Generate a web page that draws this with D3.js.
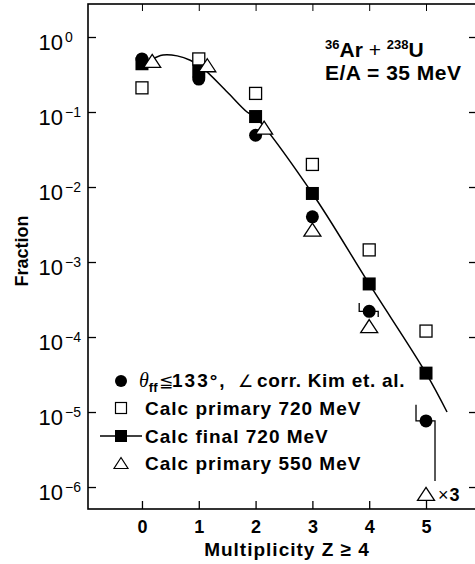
<!DOCTYPE html>
<html>
<head>
<meta charset="utf-8">
<script src="https://cdn.jsdelivr.net/npm/d3@7"></script>
<style>
  body { margin: 0; background: #fff; }
  svg { display: block; }
  text { font-family: "Liberation Sans", Arial, Helvetica, sans-serif; fill: #000; }
</style>
</head>
<body>
<script>
const w = 475;
const h = 564;

// multiplicity bins
const zValues = [0, 1, 2, 3, 4, 5];
// data: theta_ff <= 133 deg, angle corrected (Kim et al.)
const measured = [0.51, 0.275, 0.049, 0.004, 2.2e-4, 7.6e-6];
const measuredHi = [null, null, null, null, 2.85e-4, 1.25e-5];
const measuredLo = [null, null, null, null, 1.85e-4, 1.2e-6];
// calc primary 720 MeV
const primary720 = [0.21, 0.51, 0.177, 0.02, 1.45e-3, 1.2e-4];
// calc final 720 MeV
const final720 = [0.44, 0.35, 0.087, 0.0082, 5.1e-4, 3.3e-5];
// calc primary 550 MeV (shifted a bit right where crowded, last one x3)
const primary550Z = [0.18, 1.15, 2.15, 3, 4, 5];
const primary550 = [0.48, 0.42, 0.062, 0.0027, 1.4e-4, 8.1e-7];
// smooth line through the final 720 MeV calc
const curveZ = [0.14, 0.37, 0.62, 0.85, 1.06, 1.5, 1.85, 2, 3, 4, 5, 5.37];
const curveF = [0.49, 0.575, 0.56, 0.49, 0.39, 0.185, 0.1, 0.085, 0.0082, 5.1e-4, 3.3e-5, 1.0e-5];

const xTicks = [0, 1, 2, 3, 4, 5];
const yExps = [0, -1, -2, -3, -4, -5, -6];
const yExpLabels = ["0", "\u22121", "\u22122", "\u22123", "\u22124", "\u22125", "\u22126"];

const legendLabels = [
  "Calc primary 720 MeV",
  "Calc final 720 MeV",
  "Calc primary 550 MeV",
];

const x = d3.scaleLinear().domain([-0.95, 5.88]).range([88, 476]);
const y = d3.scaleLog().domain([Math.pow(10, 0.44), Math.pow(10, -6.293)]).range([4, 509]);

const svg = d3.select("body").append("svg").attr("width", w).attr("height", h);

// frame
svg.append("rect")
  .attr("x", x.range()[0])
  .attr("y", y.range()[0])
  .attr("width", x.range()[1] - x.range()[0])
  .attr("height", y.range()[1] - y.range()[0])
  .attr("fill", "none")
  .attr("stroke", "#000")
  .attr("stroke-width", 1.6);

// axes, ticks pointing inward
const gx = svg.append("g")
  .attr("transform", `translate(0,${y.range()[1]})`)
  .call(d3.axisBottom(x).tickValues(xTicks).tickSize(-8).tickPadding(11).tickFormat(d3.format("d")));
gx.select(".domain").remove();
gx.selectAll("line").attr("stroke-width", 1.3);
gx.selectAll("text")
  .attr("font-size", 18)
  .attr("font-weight", "bold")
  .attr("font-family", "Liberation Sans, Arial, sans-serif");

const gt = svg.append("g")
  .attr("transform", `translate(0,${y.range()[0]})`)
  .call(d3.axisTop(x).tickValues(xTicks).tickSize(-7).tickFormat(""));
gt.select(".domain").remove();

const yTickVals = yExps.map((e) => Math.pow(10, e));
const gl = svg.append("g")
  .attr("transform", `translate(${x.range()[0]},0)`)
  .call(d3.axisLeft(y).tickValues(yTickVals).tickSize(-8).tickFormat(""));
gl.select(".domain").remove();
gl.selectAll("line").attr("stroke-width", 1.3);

const gr = svg.append("g")
  .attr("transform", `translate(${x.range()[1]},0)`)
  .call(d3.axisRight(y).tickValues(yTickVals).tickSize(-7).tickFormat(""));
gr.select(".domain").remove();
gr.selectAll("line").attr("stroke-width", 1.3);

// y tick labels 10^n
yExps.forEach((e, i) => {
  const yy = y(Math.pow(10, e));
  svg.append("text")
    .attr("x", 63)
    .attr("y", yy + 13)
    .attr("text-anchor", "end")
    .attr("font-size", 22)
    .text("10");
  svg.append("text")
    .attr("x", 65)
    .attr("y", yy + 5)
    .attr("font-size", 14)
    .text(yExpLabels[i]);
});

// axis titles
svg.append("text")
  .attr("x", 287)
  .attr("y", 556)
  .attr("text-anchor", "middle")
  .attr("font-size", 19)
  .attr("font-weight", "bold")
  .attr("letter-spacing", 1)
  .text("Multiplicity Z \u2265 4");

svg.append("text")
  .attr("transform", "translate(28,251) rotate(-90)")
  .attr("text-anchor", "middle")
  .attr("font-size", 18)
  .attr("font-weight", "bold")
  .text("Fraction");

// fitted curve
const line = d3.line()
  .x((d) => x(d[0]))
  .y((d) => y(d[1]))
  .curve(d3.curveCatmullRom.alpha(0.5));
svg.append("path")
  .datum(curveZ.map((z, i) => [z, curveF[i]]))
  .attr("fill", "none")
  .attr("stroke", "#000")
  .attr("stroke-width", 1.5)
  .attr("d", line);

// markers
const tri = (b, ht) => `M0,${-ht / 2}L${b / 2},${ht / 2}L${-b / 2},${ht / 2}Z`;

svg.append("g")
  .selectAll("rect")
  .data(zValues)
  .join("rect")
  .attr("x", (d) => x(d) - 6.5)
  .attr("y", (d, i) => y(final720[i]) - 6.5)
  .attr("width", 13)
  .attr("height", 13)
  .attr("fill", "#000");

svg.append("g")
  .selectAll("circle")
  .data(zValues)
  .join("circle")
  .attr("cx", (d) => x(d))
  .attr("cy", (d, i) => y(measured[i]))
  .attr("r", 6.5)
  .attr("fill", "#000");

// error bars (hooks)
const err = svg.append("g").attr("fill", "none").attr("stroke", "#000").attr("stroke-width", 1.3);
zValues.forEach((z, i) => {
  if (measuredHi[i] == null) return;
  const cx = x(z);
  const cy = y(measured[i]);
  err.append("path").attr("d", `M${cx - 10},${y(measuredHi[i])}V${cy}H${cx - 5}`);
  err.append("path").attr("d", `M${cx + 5},${cy}H${cx + 9}V${y(measuredLo[i])}`);
});

svg.append("g")
  .selectAll("rect")
  .data(zValues)
  .join("rect")
  .attr("x", (d) => x(d) - 6)
  .attr("y", (d, i) => y(primary720[i]) - 6)
  .attr("width", 12)
  .attr("height", 12)
  .attr("fill", "#fff")
  .attr("stroke", "#000")
  .attr("stroke-width", 1.3);

svg.append("g")
  .selectAll("path")
  .data(primary550Z)
  .join("path")
  .attr("transform", (d, i) => `translate(${x(d)},${y(primary550[i])})`)
  .attr("d", tri(17, 13))
  .attr("fill", "#fff")
  .attr("stroke", "#000")
  .attr("stroke-width", 1.3);

// x3 note for the last 550 MeV point
const last = primary550Z.length - 1;
const note = svg.append("text")
  .attr("x", x(primary550Z[last]) + 12)
  .attr("y", y(primary550[last]) + 7)
  .attr("font-size", 18);
note.append("tspan").text("\u00d7");
note.append("tspan").attr("dx", 1).attr("font-weight", "bold").text("3");

// reaction label
const r1 = svg.append("text")
  .attr("x", 325)
  .attr("y", 57)
  .attr("font-size", 21)
  .attr("font-weight", "bold");
r1.append("tspan").attr("font-size", 13).attr("dy", -8).text("36");
r1.append("tspan").attr("dy", 8).text("Ar");
r1.append("tspan").attr("font-weight", "normal").text(" + ");
r1.append("tspan").attr("font-size", 13).attr("dy", -8).text("238");
r1.append("tspan").attr("dy", 8).text("U");

svg.append("text")
  .attr("x", 325)
  .attr("y", 80)
  .attr("font-size", 21)
  .attr("font-weight", "bold")
  .attr("letter-spacing", 0.5)
  .text("E/A = 35 MeV");

// legend
const lg = svg.append("g");
const rowY = [381, 408, 436, 463];
const mx = 121;

lg.append("circle").attr("cx", mx).attr("cy", rowY[0]).attr("r", 6).attr("fill", "#000");
lg.append("rect").attr("x", mx - 5.5).attr("y", rowY[1] - 5.5).attr("width", 11).attr("height", 11)
  .attr("fill", "#fff").attr("stroke", "#000").attr("stroke-width", 1.2);
lg.append("line").attr("x1", 100).attr("x2", 142).attr("y1", rowY[2]).attr("y2", rowY[2])
  .attr("stroke", "#000").attr("stroke-width", 1.5);
lg.append("rect").attr("x", mx - 6).attr("y", rowY[2] - 6).attr("width", 12).attr("height", 12).attr("fill", "#000");
lg.append("path").attr("transform", `translate(${mx},${rowY[3]})`).attr("d", tri(14, 11))
  .attr("fill", "#fff").attr("stroke", "#000").attr("stroke-width", 1.2);

const t0 = lg.append("text")
  .attr("x", 139)
  .attr("y", rowY[0] + 6)
  .attr("font-size", 19)
  .attr("font-weight", "bold");
t0.append("tspan")
  .attr("font-family", "Liberation Serif, serif")
  .attr("font-style", "italic")
  .attr("font-weight", "normal")
  .attr("font-size", 20)
  .text("\u03b8");
t0.append("tspan").attr("font-size", 13).attr("dy", 5).text("ff");
t0.append("tspan").attr("x", 159).attr("dy", -5).attr("font-weight", "normal")
  .attr("font-family", "DejaVu Sans").attr("font-size", 17).text("\u2266");
t0.append("tspan").attr("x", 172).attr("letter-spacing", 2).text("133\u00b0,");
t0.append("tspan").attr("x", 238).attr("font-weight", "normal")
  .attr("font-family", "DejaVu Sans").attr("font-size", 17).text("\u2220");
t0.append("tspan").attr("x", 257).attr("letter-spacing", 0.7).text("corr. Kim et. al.");

legendLabels.forEach((s, i) => {
  lg.append("text")
    .attr("x", 145)
    .attr("y", rowY[i + 1] + 7)
    .attr("font-size", 19)
    .attr("font-weight", "bold")
    .attr("letter-spacing", 1)
    .text(s);
});
</script>
</body>
</html>
